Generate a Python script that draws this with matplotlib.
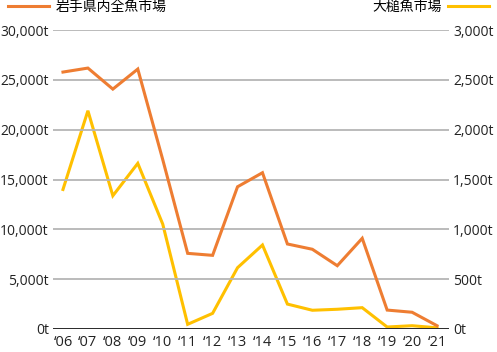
import matplotlib
matplotlib.use("Agg")
import matplotlib.pyplot as plt
from matplotlib.ticker import FuncFormatter

plt.rcParams['font.family'] = ['Open Sans', 'Noto Sans CJK JP', 'DejaVu Sans']

# data
years = ['06', '07', '08', '09', '10', '11', '12', '13', '14', '15', '16', '17', '18', '19', '20', '21']
iwate_all = [25780, 26180, 24070, 26080, 17000, 7590, 7390, 14270, 15680, 8530,
             8000, 6350, 9100, 1900, 1680, 330]
otsuchi = [1400, 2190, 1337, 1662, 1053, 47, 157, 615, 843, 250,
           188, 198, 214, 20, 33, 12]
label_iwate = '岩手県内全魚市場'
label_otsuchi = '大槌魚市場'

orange = '#EE7D32'
yellow = '#FFC000'

fig = plt.figure(figsize=(4.97, 3.52), dpi=100)
ax = fig.add_axes([53 / 497, 1 - 329 / 352, (449 - 53) / 497, 299 / 352])
ax2 = ax.twinx()

x = list(range(len(years)))
l1, = ax.plot(x, iwate_all, color=orange, lw=2.2, solid_joinstyle='miter', zorder=3)
l2, = ax2.plot(x, otsuchi, color=yellow, lw=2.2, solid_joinstyle='miter', zorder=3)

ax.set_xlim(-0.4, 15.48)
ax.set_ylim(0, 30000)
ax2.set_ylim(0, 3000)
ax.set_yticks(range(0, 30001, 5000))
ax2.set_yticks(range(0, 3001, 500))
ax.yaxis.set_major_formatter(FuncFormatter(lambda v, p: f'{int(v):,}t'))
ax2.yaxis.set_major_formatter(FuncFormatter(lambda v, p: f'{int(v):,}t'))
ax.set_xticks(x)
ax.set_xticklabels(['\u2018' + y for y in years])

for a in (ax, ax2):
    for s in a.spines.values():
        s.set_visible(False)
    a.tick_params(length=0, labelsize=10, colors='#222222')
ax.tick_params(axis='x', pad=4, labelsize=10.5)
ax.tick_params(axis='y', pad=3)
ax2.tick_params(axis='y', pad=3)

ax.grid(axis='y', color='#b5b5b5', lw=1.3)
ax.set_axisbelow(True)
ax.axhline(0, color='black', lw=1.8, zorder=4)

ax.patch.set_visible(False)
ax2.set_zorder(ax.get_zorder() - 1)
ax.set_zorder(ax2.get_zorder() + 1)

fig.legend([l1], [label_iwate], loc='upper left', bbox_to_anchor=(0.0, 1.025),
           frameon=False, fontsize=10, handlelength=2.9, handletextpad=0.5,
           borderaxespad=0.2)
fig.legend([l2], [label_otsuchi], loc='upper right', bbox_to_anchor=(1.0, 1.025),
           frameon=False, fontsize=10, handlelength=2.9, handletextpad=0.5,
           markerfirst=False, borderaxespad=0.2)

fig.savefig('out.png', dpi=100)
